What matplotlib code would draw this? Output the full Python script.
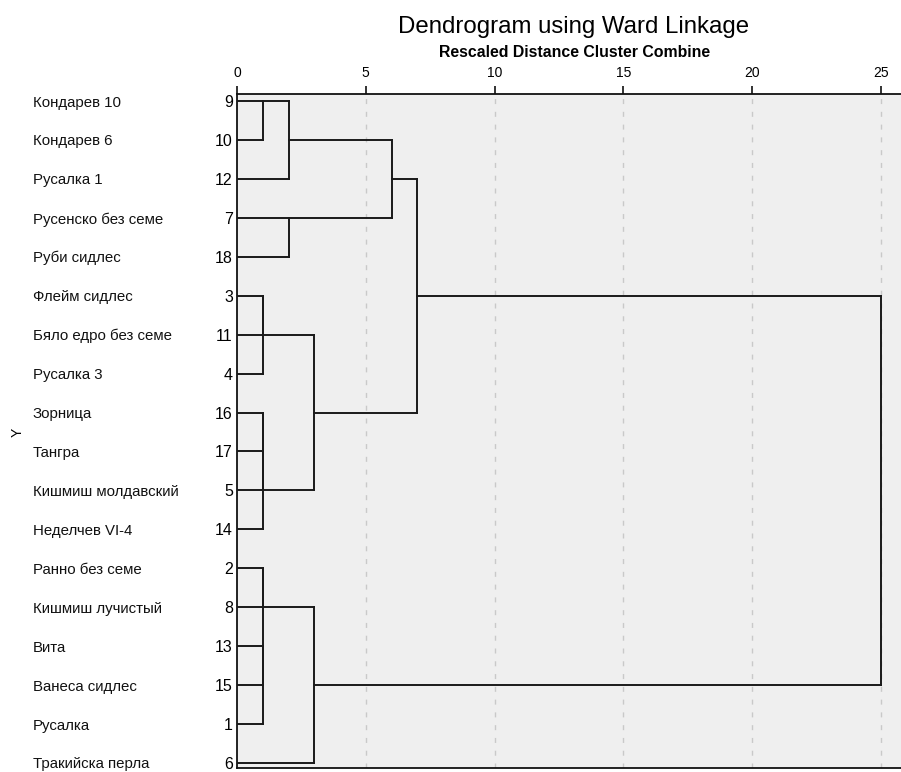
import numpy as np
import matplotlib
matplotlib.use("Agg")
import matplotlib.pyplot as plt
import matplotlib.transforms as mtransforms

plt.rcParams["font.family"] = ["Liberation Sans", "DejaVu Sans"]

# leaves in display order (top to bottom)
names = ["Кондарев 10", "Кондарев 6", "Русалка 1", "Русенско без семе", "Руби сидлес",
         "Флейм сидлес", "Бяло едро без семе", "Русалка 3", "Зорница", "Тангра",
         "Кишмиш молдавский", "Неделчев VI-4", "Ранно без семе", "Кишмиш лучистый",
         "Вита", "Ванеса сидлес", "Русалка", "Тракийска перла"]
cases = [9, 10, 12, 7, 18, 3, 11, 4, 16, 17, 5, 14, 2, 8, 13, 15, 1, 6]

# agglomeration schedule: (cluster 1, cluster 2, rescaled distance)
merge_a = [9, 9, 7, 3, 3, 16, 16, 16, 2, 13, 13, 2, 3, 2, 9, 9, 9]
merge_b = [10, 12, 18, 11, 4, 17, 5, 14, 8, 15, 1, 13, 16, 6, 7, 3, 2]
merge_d = [1, 2, 2, 1, 1, 1, 1, 1, 1, 1, 1, 1, 3, 3, 6, 7, 25]

fig = plt.figure(figsize=(9.01, 7.72), dpi=100)
ax = fig.add_axes([237 / 901, 4 / 772, 664 / 901, 674 / 772])
ax.set_facecolor("#efefef")

# current state of each cluster: row position and height
pos = {c: [float(i), 0.0] for i, c in enumerate(cases)}
lc = "#1a1a1a"
for a, b, d in zip(merge_a, merge_b, merge_d):
    ya, xa = pos[a]
    yb, xb = pos[b]
    ax.plot([xa, d], [ya, ya], color=lc, lw=1.4, solid_capstyle="projecting", zorder=3)
    ax.plot([xb, d], [yb, yb], color=lc, lw=1.4, solid_capstyle="projecting", zorder=3)
    ax.plot([d, d], [ya, yb], color=lc, lw=1.4, solid_capstyle="projecting", zorder=3)
    pos[a] = [float(np.floor((ya + yb) / 2)), float(d)]
    del pos[b]

ax.set_xlim(0, 25.78)
ax.set_ylim(len(cases) - 1 + 0.13, -0.18)

# top axis with ticks
ax.xaxis.tick_top()
ax.set_xticks([0, 5, 10, 15, 20, 25])
ax.tick_params(axis="x", direction="out", length=6, width=1.2, color="#111111",
               labelsize=10, pad=4)
ax.grid(axis="x", color="#c9c9c9", lw=1, linestyle=(0, (3.6, 5.6)), zorder=1)
ax.xaxis.get_gridlines()[0].set_visible(False)

ax.set_yticks(range(len(cases)))
ax.set_yticklabels([str(c) for c in cases], fontsize=11.5)
ax.tick_params(axis="y", length=0, pad=3)

for s in ["top", "left", "bottom"]:
    ax.spines[s].set_color("#111111")
    ax.spines[s].set_linewidth(1.3)
ax.spines["right"].set_visible(False)

# case names
trans = mtransforms.blended_transform_factory(fig.transFigure, ax.transData)
trans = trans + mtransforms.ScaledTranslation(0, -1.5 / 100, fig.dpi_scale_trans)
for i, n in enumerate(names):
    ax.text(33 / 901, i, n, transform=trans, ha="left", va="center", fontsize=10.8,
            color="#111111")

fig.text(18 / 901, 1 - 432 / 772, "Y", rotation=90, ha="center", va="center", fontsize=10)
fig.text(574 / 901, 1 - 33 / 772, "Dendrogram using Ward Linkage", ha="center",
         va="baseline", fontsize=17.3)
fig.text(575 / 901, 1 - 57 / 772, "Rescaled Distance Cluster Combine", ha="center",
         va="baseline", fontsize=11.4, fontweight="bold")

fig.savefig("out.png", dpi=100, facecolor="white")
